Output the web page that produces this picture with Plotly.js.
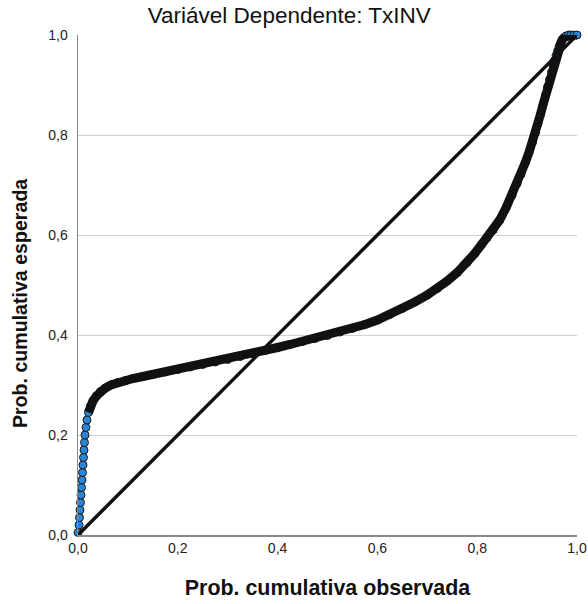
<!DOCTYPE html>
<html>
<head>
<meta charset="utf-8">
<script src="https://cdn.plot.ly/plotly-3.0.1.min.js"></script>
<style>html,body{margin:0;padding:0;background:#fff;}#chart{width:588px;height:604px;}</style>
</head>
<body>
<div id="chart"></div>
<script>
const observed = [0.000,0.002,0.003,0.004,0.005,0.006,0.007,0.008,0.009,0.010,0.011,0.012,0.013,0.014,0.016,0.018,0.021,0.025,0.030,0.037,0.045,0.055,0.066,0.080,0.095,0.110,0.130,0.150,0.175,0.200,0.225,0.250,0.275,0.300,0.325,0.350,0.375,0.400,0.425,0.450,0.475,0.500,0.525,0.550,0.575,0.600,0.625,0.650,0.675,0.700,0.720,0.740,0.760,0.780,0.795,0.808,0.820,0.832,0.845,0.858,0.870,0.880,0.888,0.896,0.904,0.911,0.917,0.922,0.927,0.932,0.937,0.941,0.945,0.949,0.952,0.955,0.958,0.961,0.964,0.967,0.970,0.974,0.978,0.983,0.988,0.994,1.000];
const expected = [0.005,0.020,0.035,0.050,0.065,0.080,0.095,0.110,0.125,0.140,0.155,0.170,0.185,0.200,0.215,0.230,0.245,0.258,0.268,0.278,0.287,0.294,0.300,0.305,0.309,0.313,0.317,0.321,0.326,0.331,0.336,0.341,0.346,0.351,0.357,0.363,0.369,0.375,0.381,0.387,0.393,0.399,0.406,0.413,0.421,0.430,0.441,0.453,0.466,0.480,0.493,0.508,0.525,0.545,0.563,0.580,0.595,0.610,0.630,0.655,0.680,0.703,0.722,0.744,0.766,0.786,0.805,0.823,0.842,0.861,0.880,0.896,0.911,0.926,0.938,0.949,0.959,0.968,0.977,0.984,0.990,0.995,0.998,1.000,1.000,1.000,1.000];
// Reference diagonal
const refX = [0, 1];
const refY = [0, 1];
// Tick values
const tickValues = [0, 0.2, 0.4, 0.6, 0.8, 1.0];
const titleText = 'Variável Dependente: TxINV';
const xTitle = 'Prob. cumulativa observada';
const yTitle = 'Prob. cumulativa esperada';

const bandStart = 16;

const traces = [
  {
    x: observed, y: expected, type: 'scatter', mode: 'markers',
    marker: {size: 8, color: '#2a86d4', line: {color: '#1a1a1a', width: 1}},
    cliponaxis: false, hoverinfo: 'x+y', showlegend: false
  },
  {
    x: observed.slice(bandStart), y: expected.slice(bandStart), type: 'scatter', mode: 'lines',
    line: {color: '#111', width: 9}, cliponaxis: false, showlegend: false, hoverinfo: 'skip'
  },
  {
    x: refX, y: refY, type: 'scatter', mode: 'lines',
    line: {color: '#111', width: 3.5}, cliponaxis: false, showlegend: false, hoverinfo: 'skip'
  }
];

const fontFam = 'Liberation Sans, Arial, sans-serif';
const layout = {
  width: 588, height: 604,
  paper_bgcolor: '#fff', plot_bgcolor: '#fff',
  separators: ',.',
  font: {family: fontFam, color: '#1a1a1a'},
  margin: {l: 78, r: 11, t: 35, b: 69, pad: 0},
  title: {text: titleText, font: {size: 22.5, color: '#111', family: fontFam},
          xref: 'container', x: 0.492, xanchor: 'center', yref: 'container', y: 0.975, yanchor: 'middle'},
  xaxis: {
    range: [0, 1], tickvals: tickValues, tickformat: '.1f', ticks: '',
    showgrid: false, zeroline: false, showline: true, linecolor: '#8a8a8a', linewidth: 1.5,
    tickfont: {size: 14, color: '#222'}, fixedrange: true,
    title: {text: xTitle, font: {size: 21.4, weight: 'bold', color: '#111'}, standoff: 24}
  },
  yaxis: {
    range: [0, 1], tickvals: tickValues, tickformat: '.1f', ticks: '',
    showgrid: true, gridcolor: '#d0d0d0', gridwidth: 1,
    zeroline: false, showline: true, linecolor: '#8a8a8a', linewidth: 1.5,
    tickfont: {size: 14, color: '#222'}, ticklabelstandoff: 6, fixedrange: true
  },
  annotations: [{
    text: yTitle, textangle: -90, showarrow: false,
    xref: 'paper', yref: 'paper', x: -0.116, y: 0.464, xanchor: 'center', yanchor: 'middle',
    font: {size: 19.6, weight: 'bold', color: '#111', family: fontFam}
  }]
};

Plotly.newPlot('chart', traces, layout, {displayModeBar: false, staticPlot: true});
</script>
</body>
</html>
